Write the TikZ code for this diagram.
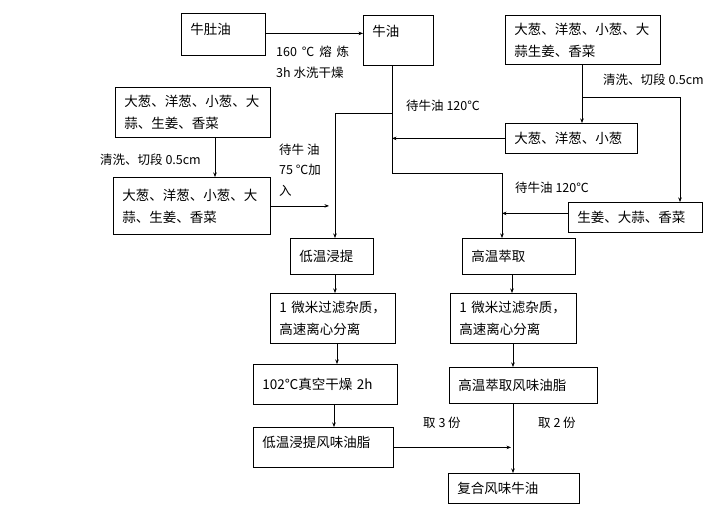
\documentclass[tikz,border=0pt]{standalone}
\usepackage{fontspec}
\setmainfont{Noto Sans CJK SC}
\usetikzlibrary{arrows.meta}
\begin{document}
\begin{tikzpicture}[x=1pt,y=-1pt,
  box/.style={draw, line width=0.8pt, anchor=north west, inner xsep=9pt, inner ysep=0pt, align=left, font=\fontsize{13.5}{22}\selectfont},
  lbl/.style={anchor=west, inner sep=0pt, font=\fontsize{12.5}{14}\selectfont},
  conn/.style={line width=0.6pt},
  arr/.style={conn, -{Stealth[length=4.5pt,width=3.5pt]}}]
\fill[white] (0,0) rectangle (717,509);
\useasboundingbox (0,0) rectangle (717,509);
% boxes
\node[box, minimum width=84pt, text width=66pt, minimum height=42pt, text height=10pt, text depth=9pt] (niudu) at (181,13) {牛肚油};
\node[box, minimum width=70pt, text width=52pt, minimum height=50pt, text height=10pt, text depth=18pt] (niuyou) at (363,15) {牛油};
\node[box, minimum width=155pt, text width=137pt, minimum height=49pt] (tr) at (505,15) {大葱、洋葱、小葱、大\\蒜生姜、香菜};
\node[box, minimum width=132pt, text width=114pt, minimum height=30pt] (xc) at (505,123) {大葱、洋葱、小葱};
\node[box, minimum width=134pt, text width=116pt, minimum height=30pt] (sj) at (568,202) {生姜、大蒜、香菜};
\node[box, minimum width=155pt, text width=137pt, minimum height=50pt] (tl) at (115,87) {大葱、洋葱、小葱、大\\蒜、生姜、香菜};
\node[box, minimum width=157pt, text width=139pt, minimum height=57pt] (tl2) at (113,177) {大葱、洋葱、小葱、大\\蒜、生姜、香菜};
\node[box, minimum width=83pt, text width=65pt, minimum height=36pt] (dw) at (290,238) {低温浸提};
\node[box, minimum width=113pt, text width=95pt, minimum height=36pt] (gw) at (462,238) {高温萃取};
\node[box, minimum width=125pt, text width=107pt, minimum height=50pt] (fl) at (270,293) {1 微米过滤杂质，\\高速离心分离};
\node[box, minimum width=126pt, text width=108pt, minimum height=50pt] (fr) at (450,293) {1 微米过滤杂质，\\高速离心分离};
\node[box, minimum width=144pt, text width=126pt, minimum height=40pt] (vd) at (253,364) {102℃真空干燥 2h};
\node[box, minimum width=148pt, text width=130pt, minimum height=36pt] (gf) at (449,367) {高温萃取风味油脂};
\node[box, minimum width=140pt, text width=122pt, minimum height=40pt, text height=10pt, text depth=10pt] (ldf) at (253,427) {低温浸提风味油脂};
\node[box, minimum width=131pt, text width=113pt, minimum height=30pt] (fh) at (448,473) {复合风味牛油};
% helper coordinates
\coordinate (a) at (392,113);
\coordinate (b) at (392,173);
\coordinate (c) at (502,173);
\coordinate (d) at (335,113);
\coordinate (e) at (582,97);
\coordinate (f) at (680,97);
\coordinate (g) at (215,0);
\coordinate (h) at (329,0);
\coordinate (k1) at (335,0);
\coordinate (k2) at (337,0);
\coordinate (k3) at (334,0);
\coordinate (m1) at (512,0);
\coordinate (m2) at (513,0);
\coordinate (m3) at (511,0);
% connectors
\draw[arr] ([yshift=1pt]niudu.east) -- ([yshift=1pt]niudu.east -| niuyou.west);
\draw[arr] (niuyou.south -| a) -- (b) -- (c) -- (c |- gw.north);
\draw[arr] (a) -- (d) -- (d |- dw.north);
\draw[arr] (xc.west) -- (xc.west -| a);
\draw[arr] ([yshift=4pt]sj.west) -- ([yshift=4pt]sj.west -| c);
\draw[arr] (tr.south -| e) -- (xc.north -| e);
\draw[arr] (e) -- (f) -- (f |- sj.north);
\draw[arr] (tl.south -| g) -- (tl2.north -| g);
\draw[arr] (tl2.east) -- (tl2.east -| h);
\draw[arr] (dw.south -| k1) -- (fl.north -| k1);
\draw[arr] (fl.south -| k2) -- (vd.north -| k2);
\draw[arr] (vd.south -| k3) -- (ldf.north -| k3);
\draw[arr] (gw.south -| m1) -- (fr.north -| m1);
\draw[arr] (fr.south -| m2) -- (gf.north -| m2);
\draw[arr] (gf.south -| m2) -- (fh.north -| m2);
\draw[arr] (ldf.east) -- (ldf.east -| m3);
% labels
\node[lbl] (l1) at (276,52) {160\, ℃\, 熔\, 炼};
\node[lbl] (l2) at (276,73) {3h 水洗干燥};
\node[lbl] (l3) at (603,80) {清洗、切段 0.5cm};
\node[lbl] (l4) at (406,106) {待牛油 120℃};
\node[lbl] (l5) at (515,188) {待牛油 120℃};
\node[lbl] (l6) at (100,160) {清洗、切段 0.5cm};
\node[lbl] (l7) at (279,150) {待牛 油};
\node[lbl] (l8) at (279,170) {75 ℃加};
\node[lbl] (l9) at (279,191) {入};
\node[lbl] (l10) at (423,423) {取 3 份};
\node[lbl] (l11) at (538,423) {取 2 份};
\end{tikzpicture}
\end{document}
